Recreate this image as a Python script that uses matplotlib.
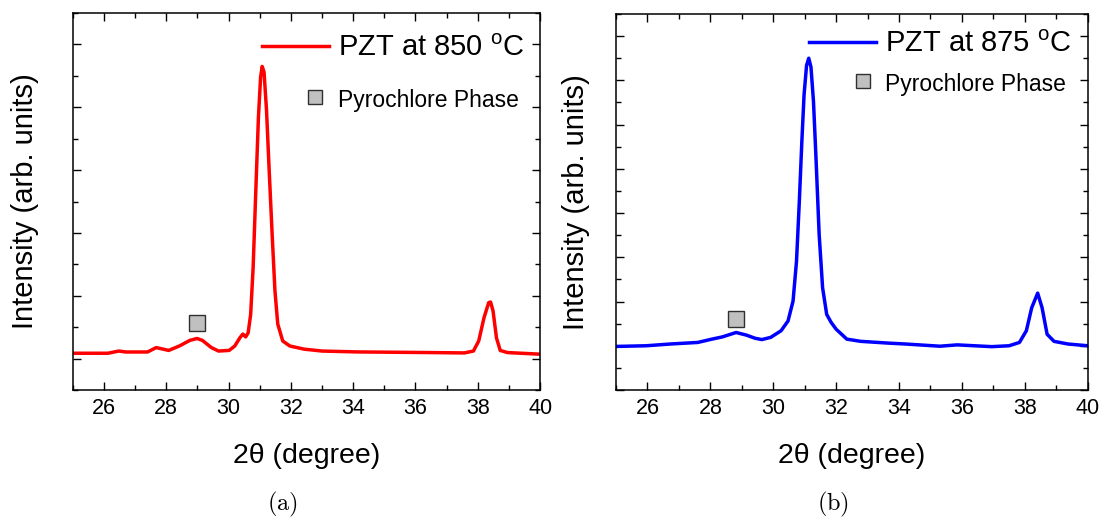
import numpy as np
import matplotlib.pyplot as plt
from matplotlib.lines import Line2D
from matplotlib.legend_handler import HandlerLine2D
from matplotlib.ticker import MultipleLocator, NullFormatter

plt.rcParams['font.family'] = ['Liberation Sans', 'DejaVu Sans']
plt.rcParams['mathtext.fontset'] = 'custom'
plt.rcParams['mathtext.rm'] = 'Liberation Sans'

# --- data (intensity in arbitrary tick units) ---
theta_850 = [25.0, 26.13, 26.48, 26.7, 27.4, 27.68, 28.08, 28.42, 28.76, 28.99,
             29.16, 29.45, 29.68, 30.02, 30.2, 30.37, 30.46, 30.55, 30.63, 30.71,
             30.79, 30.88, 30.96, 31.03, 31.08, 31.14, 31.22, 31.3, 31.4, 31.49,
             31.58, 31.74, 31.97, 32.43, 33.0, 34.14, 36.43, 37.57, 37.86, 38.03,
             38.2, 38.35, 38.41, 38.49, 38.6, 38.72, 38.95, 40.0]
int_850 = [0.085, 0.085, 0.12, 0.105, 0.105, 0.175, 0.13, 0.2, 0.29, 0.32,
           0.29, 0.175, 0.12, 0.13, 0.2, 0.335, 0.39, 0.345, 0.41, 0.7,
           1.45, 2.73, 3.84, 4.48, 4.65, 4.56, 3.95, 3.05, 1.98, 1.08,
           0.55, 0.28, 0.2, 0.15, 0.12, 0.106, 0.096, 0.09, 0.12, 0.28,
           0.65, 0.89, 0.9, 0.76, 0.33, 0.13, 0.096, 0.07]

theta_875 = [25.0, 25.96, 26.73, 27.6, 28.05, 28.38, 28.82, 29.15, 29.42, 29.64,
             29.92, 30.25, 30.47, 30.63, 30.74, 30.83, 30.91, 30.98, 31.06, 31.13,
             31.2, 31.28, 31.36, 31.46, 31.57, 31.7, 31.84, 32.0, 32.34, 32.78,
             33.66, 34.2, 35.3, 35.85, 36.95, 37.5, 37.83, 38.05, 38.22, 38.41,
             38.55, 38.71, 38.93, 39.37, 40.0]
int_875 = [-0.015, 0.0, 0.04, 0.075, 0.15, 0.2, 0.3, 0.24, 0.17, 0.14,
           0.19, 0.34, 0.56, 1.01, 1.91, 3.27, 4.62, 5.67, 6.34, 6.5,
           6.3, 5.52, 4.24, 2.52, 1.31, 0.71, 0.53, 0.375, 0.15, 0.1,
           0.06, 0.04, -0.01, 0.02, -0.02, 0.0, 0.075, 0.34, 0.86, 1.19,
           0.86, 0.26, 0.1, 0.04, 0.0]

# pyrochlore markers (theta, intensity)
pyro_850 = (29.0, 0.57)
pyro_875 = (28.8, 0.6)

panels = [
    dict(theta=theta_850, inten=int_850, pyro=pyro_850, color='#ff0000',
         label=r'PZT at 850 $^{\mathrm{o}}$C', ylim=(-0.5, 5.5), tag='(a)',
         pos=[0.066, 0.2471, 0.4241, 0.7278], labelpad=18, spacing=0.86,
         anchor=(1.0, 0.987), tagx=0.256),
    dict(theta=theta_875, inten=int_875, pyro=pyro_875, color='#0000ff',
         label=r'PZT at 875 $^{\mathrm{o}}$C', ylim=(-1.0, 7.5), tag='(b)',
         pos=[0.559, 0.2471, 0.428, 0.7259], labelpad=13, spacing=0.44,
         anchor=(1.0, 1.0), tagx=0.756),
]

fig = plt.figure(figsize=(11.02, 5.18), dpi=100)

for p in panels:
    ax = fig.add_axes(p['pos'])
    line, = ax.plot(p['theta'], p['inten'], color=p['color'], lw=2.5)
    ax.plot([p['pyro'][0]], [p['pyro'][1]], ls='none', marker='s', ms=11.3,
            mfc='#c0c0c0', mec='#303030', mew=1.0)

    ax.set_xlim(25, 40)
    ax.set_ylim(*p['ylim'])
    ax.xaxis.set_major_locator(MultipleLocator(2))
    ax.xaxis.set_minor_locator(MultipleLocator(1))
    ax.yaxis.set_major_locator(MultipleLocator(1))
    ax.yaxis.set_minor_locator(MultipleLocator(0.5))
    ax.yaxis.set_major_formatter(NullFormatter())
    ax.set_xticks([26, 28, 30, 32, 34, 36, 38, 40])

    ax.tick_params(which='both', direction='in', top=True, right=True,
                   width=1.0, labelsize=15.5, pad=6)
    ax.tick_params(which='major', length=6)
    ax.tick_params(which='minor', length=3.5)
    for s in ax.spines.values():
        s.set_linewidth(1.1)

    ax.set_xlabel('2θ (degree)', fontsize=20.5, labelpad=17)
    ax.set_ylabel('Intensity (arb. units)', fontsize=21, labelpad=p['labelpad'])

    box = Line2D([], [], ls='none', marker='s', ms=10.5, mfc='#c0c0c0',
                 mec='#303030', mew=1.0)
    leg = ax.legend([line, box], [p['label'], 'Pyrochlore Phase'],
                    loc='upper right', bbox_to_anchor=p['anchor'],
                    frameon=False, fontsize=21,
                    handlelength=2.3, handletextpad=0.3,
                    labelspacing=p['spacing'], borderaxespad=0.15,
                    handler_map={box: HandlerLine2D(numpoints=1, xpad=1.35)})
    leg.get_texts()[1].set_fontsize(16.5)

    fig.text(p['tagx'], 1 - 504 / 518, r'$\mathrm{' + p['tag'] + '}$',
             math_fontfamily='cm', fontsize=17.5, ha='center', va='center')

fig.savefig('out.png', dpi=100)
